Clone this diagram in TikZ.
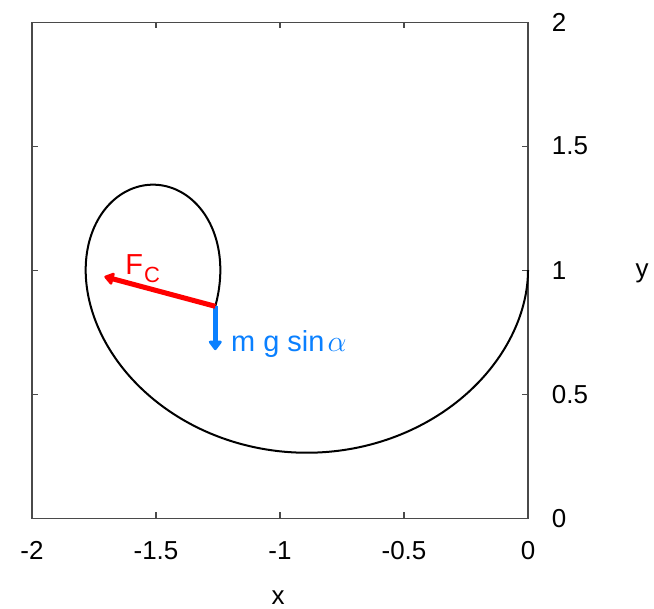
\documentclass[tikz,border=0pt]{standalone}
\usepackage{fontspec}
\setmainfont{Liberation Sans}
\usetikzlibrary{arrows.meta}
\definecolor{kraftrot}{HTML}{FF0000}
\definecolor{kraftblau}{HTML}{0A80FF}
\definecolor{rahmengrau}{HTML}{4A4A4A}
\tikzset{
  rahmen/.style={rahmengrau,line width=0.6pt},
  kurve/.style={black,line width=1.15pt,line join=round},
  vecr/.style={-{Triangle[length=6pt,width=8pt,round]},kraftrot,line width=2.9pt},
  vecb/.style={-{Triangle[length=6pt,width=8.5pt,round]},kraftblau,line width=2.9pt},
  ticklab/.style={font=\fontsize{14.9}{16}\selectfont,inner sep=0pt},
  kraftlab/.style={font=\fontsize{16.6}{18}\selectfont,inner sep=0pt},
}

\begin{document}
\begin{tikzpicture}[x=5cm,y=5cm]
  \useasboundingbox (-2.129,-0.363) rectangle (0.508,2.089);
  % Rahmen und Teilung
  \draw[rahmen] (-2,0) rectangle (0,2);
  \foreach \xw in {-1.5,-1,-0.5} {
    \draw[rahmen] (\xw,0) -- ++(0,0.024);
    \draw[rahmen] (\xw,2) -- ++(0,-0.024);
  }
  \foreach \yw in {0.5,1,1.5} {
    \draw[rahmen] (-2,\yw) -- ++(0.024,0);
    \draw[rahmen] (0,\yw) -- ++(-0.024,0);
  }
  \foreach \xw/\xt [count=\i] in {-2/-2,-1.5/-1.5,-1/-1,-0.5/-0.5,0/0}
    \node[ticklab] (xl\i) at (\xw,-0.131) {\xt};
  \foreach \yw/\yt [count=\i] in {0/0,0.5/0.5,1/1,1.5/1.5,2/2}
    \node[ticklab,anchor=west] (yl\i) at (0.095,\yw) {\yt};
  \node[ticklab,anchor=base] (xachse) at (-1.008,-0.347) {x};
  \node[ticklab,anchor=base] (yachse) at (0.46,0.972) {y};
  % Bahnkurve, Winkel phi von -90 bis -466 Grad
  \xdef\bahnx{0}
  \xdef\bahn{(0,1)}
  \foreach \w in {-91,-92,...,-466} {
    \pgfmathsetmacro\bahndx{0.52819*cos(\w+0.5)/(4.05+cos(\w+0.5))^3}
    \pgfmathsetmacro\bahnnx{\bahnx+\bahndx}
    \pgfmathsetmacro\bahnny{1-0.965*(16.4025/(4.05+cos(\w))^2-1)}
    \xdef\bahnx{\bahnnx}
    \xdef\bahn{\bahn -- (\bahnnx,\bahnny)}
  }
  \draw[kurve] \bahn coordinate (ende);
  % Kraefte
  \path (ende) ++(165:0.463) coordinate (fcspitze);
  \path (ende) ++(0,-0.177) coordinate (gspitze);
  \draw[vecb] (ende) -- (gspitze);
  \draw[vecr] (ende) -- (fcspitze);
  \node[kraftlab,text=kraftrot,anchor=base west] (fc) at (-1.625,0.983)
    {F\kern0.6pt\raisebox{-4.8pt}{\fontsize{12.6}{14}\selectfont C}};
  \node[kraftlab,text=kraftblau,anchor=base west] (mg) at (-1.198,0.671)
    {m g sin\kern1.8pt{\fontsize{19}{20}\selectfont$\alpha$}};
\end{tikzpicture}
\end{document}
